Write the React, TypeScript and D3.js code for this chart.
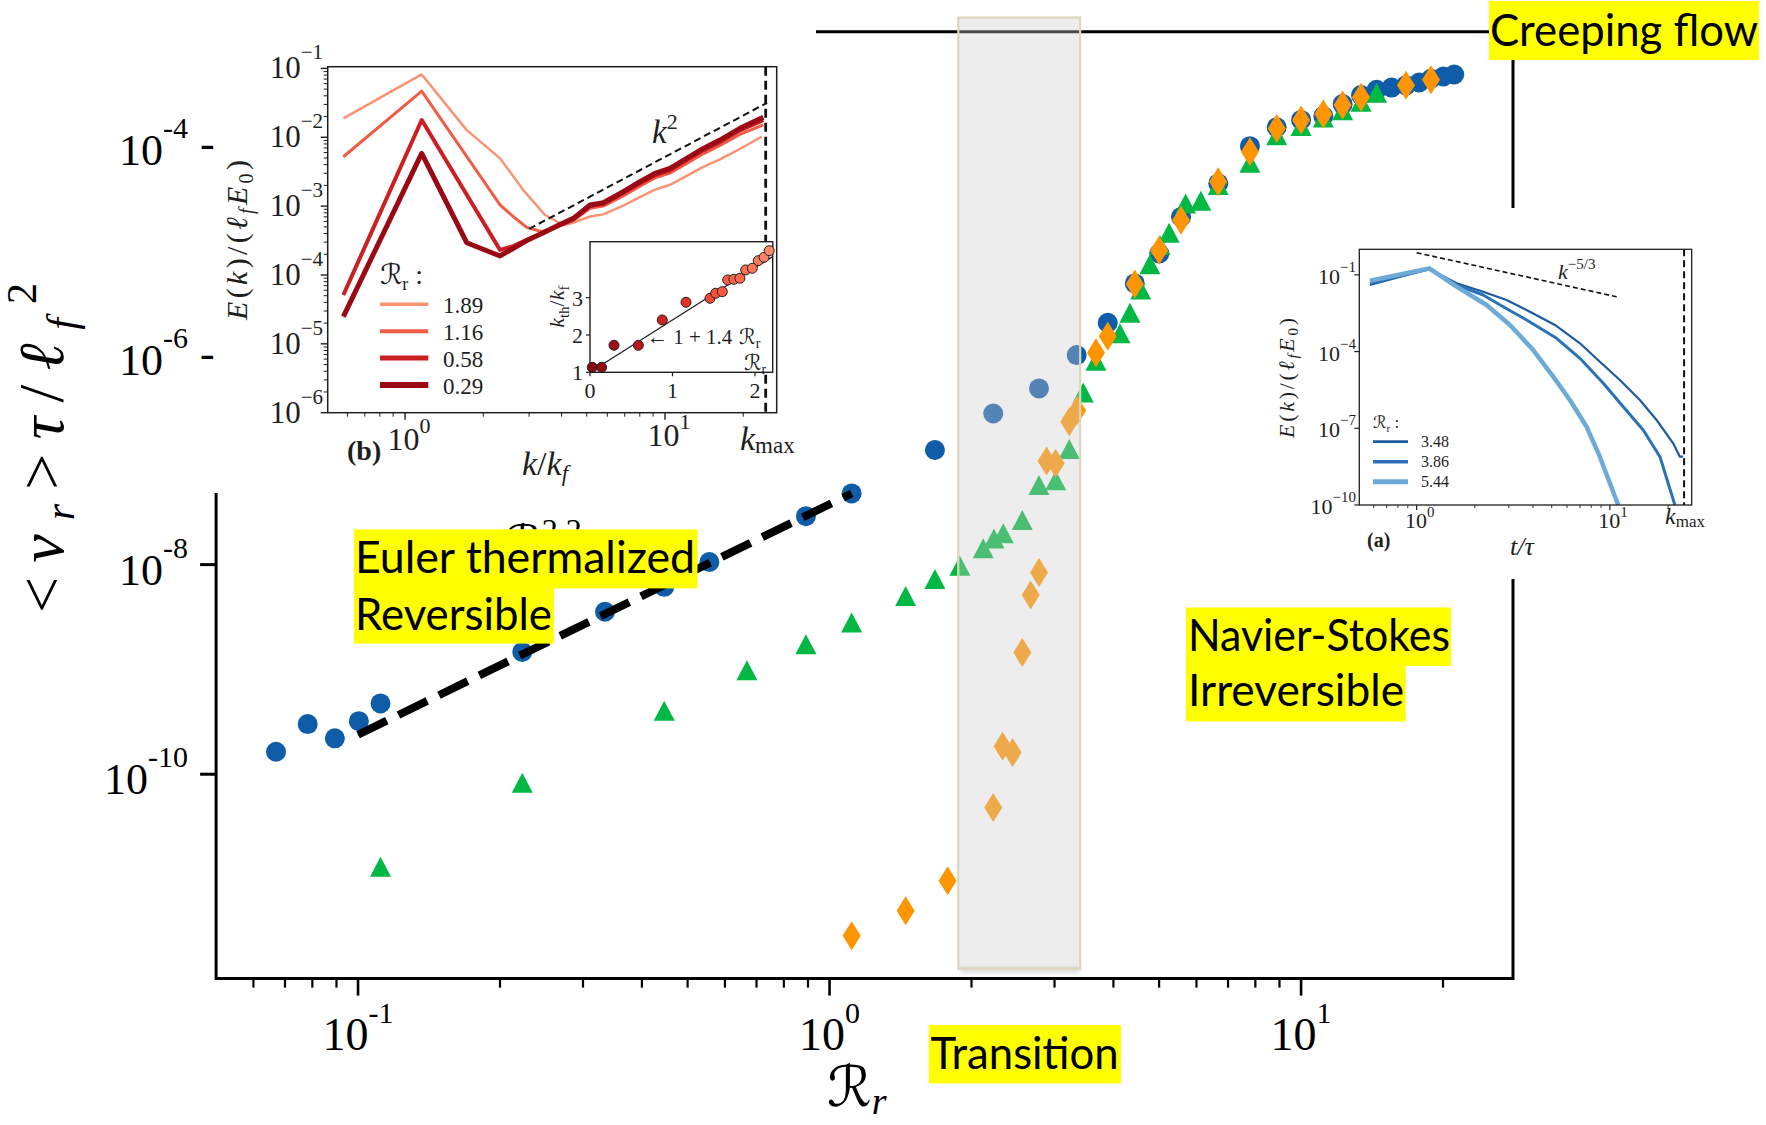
import React from "react";
import * as d3 from "d3";

// ---------- main panel: <ν_r>τ/ℓ_f² against ℛ_r ----------
const circleR = [0.067, 0.0782, 0.0893, 0.1004, 0.1116, 0.223, 0.334, 0.446, 0.556, 0.891, 1.114, 1.673, 2.224, 2.781, 3.343, 3.89, 4.44, 5.004, 5.565, 6.674, 7.79, 8.877, 10.0, 11.15, 12.25, 13.4, 14.46, 15.56, 16.69, 17.8, 18.86, 20.03, 21.13];
const circleNu = [1.64e-10, 3.01e-10, 2.2e-10, 3.21e-10, 4.74e-10, 1.47e-9, 3.55e-9, 6.14e-9, 1.06e-8, 2.9e-8, 4.78e-8, 1.24e-7, 2.77e-7, 4.8e-7, 9.98e-7, 2.03e-6, 4.82e-6, 9.31e-6, 2.08e-5, 4.34e-5, 9.84e-5, 1.49e-4, 1.75e-4, 1.91e-4, 2.48e-4, 3.02e-4, 3.39e-4, 3.56e-4, 3.74e-4, 3.98e-4, 4.33e-4, 4.55e-4, 4.75e-4];

const triangleR = [0.1116, 0.223, 0.446, 0.668, 0.891, 1.114, 1.45, 1.673, 1.89, 2.118, 2.232, 2.336, 2.563, 2.781, 3.017, 3.224, 3.452, 3.673, 4.13, 4.336, 4.57, 4.78, 5.02, 5.25, 5.69, 6.13, 6.67, 7.79, 8.88, 10.0, 11.15, 12.25, 13.4, 14.46];
const triangleNu = [1.31e-11, 8.28e-11, 4.03e-10, 9.84e-10, 1.74e-9, 2.81e-9, 5.01e-9, 7.28e-9, 9.75e-9, 1.43e-8, 1.78e-8, 1.99e-8, 2.66e-8, 5.74e-8, 6.4e-8, 1.27e-7, 4.4e-7, 8.81e-7, 1.61e-6, 2.53e-6, 4.23e-6, 7.36e-6, 1.12e-5, 1.47e-5, 2.79e-5, 2.96e-5, 4.18e-5, 6.82e-5, 1.25e-4, 1.53e-4, 1.85e-4, 2.17e-4, 2.61e-4, 3.18e-4];

const diamondR = [1.114, 1.45, 1.78, 2.224, 2.328, 2.445, 2.563, 2.67, 2.781, 2.886, 3.017, 3.224, 3.35, 3.673, 3.89, 4.44, 5.0, 5.565, 6.67, 7.79, 8.88, 10.0, 11.15, 12.25, 13.4, 16.69, 18.86];
const diamondNu = [2.87e-12, 4.98e-12, 9.62e-12, 4.82e-11, 1.85e-10, 1.61e-10, 1.45e-9, 5.12e-9, 8.41e-9, 9.77e-8, 9.25e-8, 2.31e-7, 2.95e-7, 1.05e-6, 1.51e-6, 4.75e-6, 9.98e-6, 1.93e-5, 4.5e-5, 8.69e-5, 1.45e-4, 1.75e-4, 1.99e-4, 2.43e-4, 2.88e-4, 3.74e-4, 4.23e-4];

// power-law fit ∝ ℛ^2.2 through the reversible branch
const fitR = [0.1, 1.114];
const fitNu = [2.38e-10, 4.78e-8];

// shaded transition window
const bandR = [1.875, 3.4];
const bandNu = [1.4e-12, 1.66e-3];

const xMajor = [0.1, 1, 10];
const xMajorExp = ["-1", "0", "1"];
const xMinor = [0.06, 0.07, 0.08, 0.09, 0.2, 0.3, 0.4, 0.5, 0.6, 0.7, 0.8, 0.9, 2, 3, 4, 5, 6, 7, 8, 9, 20];
const yLabelled = [1e-4, 1e-6, 1e-8, 1e-10];
const yLabelledExp = ["-4", "-6", "-8", "-10"];
const yTicked = [1e-8, 1e-10];

// ---------- panel (b): thermalized spectra ----------
const specBLabels = ["1.89", "1.16", "0.58", "0.29"];
const specBK = [
  [0.579, 1.159, 1.727, 2.32, 2.85, 3.456, 4.063, 4.44, 5.15, 5.79, 6.91, 8.01, 9.15, 10.45, 12.12, 14.04, 16.27, 19.43, 23.55],
  [0.579, 1.159, 2.32, 2.61, 2.94, 3.355, 3.98, 4.44, 5.15, 5.79, 6.91, 8.01, 9.15, 10.45, 12.12, 14.04, 16.27, 19.43, 23.88],
  [0.579, 1.159, 2.32, 2.61, 2.94, 3.4, 3.98, 4.44, 5.15, 5.79, 6.91, 8.01, 9.15, 10.45, 12.12, 14.04, 16.27, 19.43, 23.88],
  [0.579, 1.159, 1.727, 2.32, 2.61, 2.94, 3.4, 3.98, 4.44, 5.15, 5.79, 6.91, 8.01, 9.15, 10.45, 12.12, 14.04, 16.27, 19.43, 23.88],
];
const specBE = [
  [1.88e-2, 8.18e-2, 1.27e-2, 4.94e-3, 1.71e-3, 7.43e-4, 5.32e-4, 5.75e-4, 7.08e-4, 7.59e-4, 1.02e-3, 1.35e-3, 1.74e-3, 2.04e-3, 2.75e-3, 3.72e-3, 4.79e-3, 6.76e-3, 1.02e-2],
  [5.21e-3, 4.69e-2, 1.04e-3, 7.02e-4, 4.92e-4, 4.26e-4, 5.25e-4, 6.17e-4, 9.33e-4, 1.0e-3, 1.41e-3, 1.95e-3, 2.57e-3, 3.02e-3, 4.17e-3, 5.75e-3, 7.59e-3, 1.1e-2, 1.51e-2],
  [5.13e-5, 1.78e-2, 2.31e-4, 2.63e-4, 3.24e-4, 4.07e-4, 5.37e-4, 6.46e-4, 1.0e-3, 1.07e-3, 1.55e-3, 2.14e-3, 2.82e-3, 3.31e-3, 4.68e-3, 6.46e-3, 8.51e-3, 1.26e-2, 1.78e-2],
  [2.48e-5, 5.83e-3, 2.94e-4, 1.89e-4, 2.44e-4, 3.16e-4, 4.11e-4, 5.5e-4, 6.65e-4, 1.04e-3, 1.12e-3, 1.62e-3, 2.26e-3, 2.99e-3, 3.53e-3, 4.94e-3, 6.9e-3, 9.1e-3, 1.35e-2, 1.95e-2],
];
const specBColors = ["#f99373", "#ee5e47", "#cc1f24", "#9a0a14"];
const specBWidths = [2.5, 3, 4, 5];
const kSquaredK = [3.0, 24.7];
const kSquaredE = [4.67e-4, 3.16e-2];
const kMaxB = 24.4;
const specBDecades = [-6, -5, -4, -3, -2, -1];

// panel (b) inner plot: k_th/k_f against ℛ_r
const kthR = [0.028, 0.141, 0.291, 0.586, 0.876, 1.164, 1.455, 1.523, 1.604, 1.669, 1.745, 1.818, 1.887, 1.968, 2.04, 2.11, 2.173];
const kthK = [1.134, 1.134, 1.724, 1.724, 2.402, 2.877, 2.984, 3.118, 3.161, 3.475, 3.493, 3.52, 3.743, 3.788, 3.992, 4.083, 4.26];
const kthFitR = [0, 2.215];

// ---------- panel (a): dissipative spectra ----------
const specALabels = ["3.48", "3.86", "5.44"];
const specAK = [
  [0.573, 1.162, 1.61, 2.21, 2.92, 3.855, 5.195, 7.0, 8.87, 11.26, 14.29, 17.44, 21.26, 23.01, 23.93],
  [0.573, 1.162, 1.61, 2.21, 2.805, 3.707, 5.3, 7.0, 9.24, 11.72, 14.87, 18.15, 21.69],
  [0.573, 1.162, 1.61, 2.3, 3.04, 4.01, 5.09, 6.21, 7.575, 8.87, 10.0, 11.04],
];
const specAE = [
  [4.02e-2, 1.7e-1, 4.68e-2, 2.2e-2, 1.04e-2, 3.63e-3, 1.1e-3, 2.11e-4, 4.02e-5, 7.74e-6, 1.28e-6, 2.11e-7, 2.58e-8, 7.76e-9, 7.76e-9],
  [4.68e-2, 1.7e-1, 4.02e-2, 1.63e-2, 5.69e-3, 1.72e-3, 3.3e-4, 5.46e-5, 5.75e-6, 7.0e-7, 8.57e-8, 7.76e-9, 1.0e-10],
  [5.93e-2, 1.8e-1, 3.45e-2, 6.64e-3, 1.1e-3, 1.15e-4, 1.04e-5, 1.28e-6, 1.15e-7, 7.76e-9, 7.06e-10, 1.0e-10],
];
const specAColors = ["#1c5ba0", "#2a72b8", "#6eaad7"];
const specAWidths = [2.2, 3, 4.5];
const kolmoK = [1.0, 10.84];
const kolmoE = [0.736, 1.39e-2];
const kMaxA = 24.2;
const specADecades = [-1, -4, -7, -10];
const specADecExp = ["−1", "−4", "−7", "−10"];

const minorOf = (lo: number, hi: number) => {
  const out: number[] = [];
  for (let d = lo; d < hi; d++) for (let m = 2; m <= 9; m++) out.push(m * Math.pow(10, d));
  return out;
};

const SERIF = "'Liberation Serif', 'DejaVu Serif', serif";
const SCRIPT = "'DejaVu Serif', 'DejaVu Sans', serif";
const LABEL = "Lato, 'Open Sans', sans-serif";
const INK = "#1e1e1e";

function Pow10(props: { x: number; y: number; exp: string; size: number; sup: number; dy: number; anchor?: string; fill?: string }) {
  const { x, y, exp, size, sup, dy, anchor = "middle", fill = "#000" } = props;
  return (
    <text x={x} y={y} textAnchor={anchor} fontFamily={SERIF} fontSize={size} fill={fill}>
      10
      <tspan fontSize={sup} dy={dy}>{exp}</tspan>
    </text>
  );
}

function tri(cx: number, cy: number) {
  return `M${cx},${cy - 10}L${cx + 10.5},${cy + 10}L${cx - 10.5},${cy + 10}Z`;
}
function dia(cx: number, cy: number) {
  return `M${cx},${cy - 14.5}L${cx + 9},${cy}L${cx},${cy + 14.5}L${cx - 9},${cy}Z`;
}

export default function App() {
  // main axes
  const mx = d3.scaleLog().domain([0.05, 28.15]).range([216.1, 1513]);
  const my = d3.scaleLog().domain([Math.pow(10, -11.95), Math.pow(10, -2.915)]).range([978.6, 31.7]);
  const [mx0, mx1] = mx.range();
  const [my0, my1] = my.range();
  const mline = d3.line<[number, number]>().x((d) => mx(d[0])).y((d) => my(d[1]));

  // panel (b) axes
  const bx = d3.scaleLog().domain([0.504, 26.9]).range([327.7, 776.7]);
  const by = d3.scaleLog().domain([1e-6, Math.pow(10, -0.975)]).range([412.7, 66.7]);
  const bline = d3.line<[number, number]>().x((d) => bx(d[0])).y((d) => by(d[1]));
  const [bx0, bx1] = bx.range();
  const [by0, by1] = by.range();

  // panel (b) inner axes
  const ix = d3.scaleLinear().domain([0, 2.215]).range([590, 772.7]);
  const iy = d3.scaleLinear().domain([1, 4.5]).range([372.3, 241.7]);
  const kthColor = (r: number) => d3.interpolateReds(0.95 - (0.55 * r) / 2.2);

  // panel (a) axes
  const ax = d3.scaleLog().domain([0.505, 26.5]).range([1359.3, 1691.7]);
  const ay = d3.scaleLog().domain([1e-10, 1]).range([505, 249.3]);
  const aline = d3.line<[number, number]>().x((d) => ax(d[0])).y((d) => ay(d[1]));
  const [ax0, ax1] = ax.range();
  const [ay0, ay1] = ay.range();

  const zip = (a: number[], b: number[]) => a.map((v, i) => [v, b[i]] as [number, number]);

  const bandX = mx(bandR[0]);
  const bandW = mx(bandR[1]) - mx(bandR[0]);
  const bandTop = my(bandNu[1]);
  const bandBottom = my(bandNu[0]);

  return (
    <svg width={1766} height={1125} viewBox="0 0 1766 1125" style={{ position: "absolute", left: 0, top: 0, background: "#fff" }}>
      <defs>
        <filter id="bandShadow" x="-20%" y="-200%" width="140%" height="500%">
          <feGaussianBlur stdDeviation="2" />
        </filter>
        <clipPath id="fitLabelClip">
          <rect x={0} y={0} width={1766} height={529.4} />
        </clipPath>
      </defs>
      <rect x={0} y={0} width={1766} height={1125} fill="#fff" />

      {/* ===== main axes frame ===== */}
      <g stroke="#000" strokeWidth={3} fill="none">
        <line x1={mx0} x2={mx1} y1={my0} y2={my0} />
        <line x1={mx0} x2={mx0} y1={my0 + 1.5} y2={my1} />
        <line x1={mx0} x2={mx1 + 1.5} y1={my1} y2={my1} />
        <line x1={mx1} x2={mx1} y1={my0 + 1.5} y2={my1} />
      </g>
      <g stroke="#000">
        {xMajor.map((v) => (
          <line key={"xM" + v} x1={mx(v)} x2={mx(v)} y1={my0} y2={my0 + 17} strokeWidth={2.6} />
        ))}
        {xMinor.map((v) => (
          <line key={"xm" + v} x1={mx(v)} x2={mx(v)} y1={my0} y2={my0 + 9} strokeWidth={2.2} />
        ))}
        {yTicked.map((v) => (
          <line key={"yt" + v} x1={mx0 - 16} x2={mx0} y1={my(v)} y2={my(v)} strokeWidth={3} />
        ))}
      </g>
      {xMajor.map((v, i) => (
        <Pow10 key={"xl" + v} x={mx(v)} y={1050} exp={xMajorExp[i]} size={46} sup={30} dy={-27} />
      ))}

      {/* ===== main markers ===== */}
      <g fill="#0f5ca8">
        {zip(circleR, circleNu).map(([r, v], i) => (
          <circle key={"c" + i} cx={mx(r)} cy={my(v)} r={10} />
        ))}
      </g>
      <g fill="#00b843">
        {zip(triangleR, triangleNu).map(([r, v], i) => (
          <path key={"t" + i} d={tri(mx(r), my(v))} />
        ))}
      </g>
      <g fill="#ff9500">
        {zip(diamondR, diamondNu).map(([r, v], i) => (
          <path key={"d" + i} d={dia(mx(r), my(v))} />
        ))}
      </g>
      <path d={mline(zip(fitR, fitNu)) || ""} fill="none" stroke="#000" strokeWidth={8} strokeDasharray="32 13" />
      <g clipPath="url(#fitLabelClip)">
        <text x={505} y={558} fontFamily={SCRIPT} fontStyle="italic" fontSize={46}>
          ℛ<tspan fontFamily={SERIF} fontStyle="normal" fontSize={32} dy={-17}>2.2</tspan>
        </text>
      </g>

      {/* transition window */}
      <rect x={bandX + 2} y={bandBottom - 1} width={bandW - 2} height={5} fill="#9a9a9a" opacity={0.4} filter="url(#bandShadow)" />
      <rect
        x={bandX}
        y={bandTop}
        width={bandW}
        height={bandBottom - bandTop}
        fill="rgb(206,206,206)"
        fillOpacity={0.36}
        stroke="#ddd6ba"
        strokeWidth={2.2}
      />

      {/* ===== panel (b) ===== */}
      <rect x={0} y={0} width={816} height={493} fill="#fff" />
      <g stroke={INK} strokeWidth={1.4}>
        {[1, 10].map((v) => (
          <line key={"bxM" + v} x1={bx(v)} x2={bx(v)} y1={by0} y2={by0 + 7} />
        ))}
        {[0.6, 0.7, 0.8, 0.9, 2, 3, 4, 5, 6, 7, 8, 9, 20].map((v) => (
          <line key={"bxm" + v} x1={bx(v)} x2={bx(v)} y1={by0} y2={by0 + 4} strokeWidth={1} />
        ))}
        {specBDecades.map((d) => (
          <line key={"byM" + d} x1={bx0 - 7} x2={bx0} y1={by(Math.pow(10, d))} y2={by(Math.pow(10, d))} />
        ))}
        {minorOf(-6, -1).map((v, i) => (
          <line key={"bym" + i} x1={bx0 - 4} x2={bx0} y1={by(v)} y2={by(v)} strokeWidth={1} />
        ))}
      </g>
      {specBDecades.map((d) => (
        <Pow10 key={"byl" + d} x={323} y={by(Math.pow(10, d)) + 10} exp={"−" + Math.abs(d)} size={31} sup={21} dy={-19} anchor="end" fill={INK} />
      ))}
      <Pow10 x={bx(1) + 4} y={450} exp="0" size={32} sup={22} dy={-17} fill={INK} />
      <Pow10 x={bx(10) + 4} y={446} exp="1" size={32} sup={22} dy={-17} fill={INK} />

      {specBK.map((ks, i) => (
        <path key={"sb" + i} d={bline(zip(ks, specBE[i])) || ""} fill="none" stroke={specBColors[i]} strokeWidth={specBWidths[i]} strokeLinejoin="round" />
      ))}
      <path d={bline(zip(kSquaredK, kSquaredE)) || ""} fill="none" stroke="#111" strokeWidth={2} strokeDasharray="7 4" />
      <line x1={bx(kMaxB)} x2={bx(kMaxB)} y1={by1} y2={by0} stroke="#111" strokeWidth={2.8} strokeDasharray="9 5" />
      <rect x={bx0} y={by1} width={bx1 - bx0} height={by0 - by1} fill="none" stroke={INK} strokeWidth={1.5} />

      <text x={652} y={143} fontFamily={SERIF} fontSize={33} fill={INK}>
        <tspan fontStyle="italic">k</tspan>
        <tspan fontSize={22} dy={-14}>2</tspan>
      </text>

      {/* legend (b) */}
      <text x={380} y={284} fontFamily={SCRIPT} fontSize={28} fill={INK}>
        <tspan fontStyle="italic">ℛ</tspan>
        <tspan fontFamily={SERIF} fontSize={18} dy={6}>r</tspan>
        <tspan fontFamily={SERIF} dy={-6}> :</tspan>
      </text>
      {specBLabels.map((lab, i) => (
        <g key={"lb" + lab}>
          <line x1={380} x2={428.3} y1={304.3 + i * 26.9} y2={304.3 + i * 26.9} stroke={specBColors[i]} strokeWidth={specBWidths[i] + 1} />
          <text x={443} y={313 + i * 26.9} fontFamily={SERIF} fontSize={23} fill={INK}>{lab}</text>
        </g>
      ))}

      {/* inner plot k_th/k_f */}
      <rect x={ix(0)} y={iy(4.5)} width={ix(2.215) - ix(0)} height={iy(1) - iy(4.5)} fill="#fff" stroke={INK} strokeWidth={1.4} />
      <g stroke={INK} strokeWidth={1.2}>
        {[0, 1, 2].map((v) => (
          <line key={"ixt" + v} x1={ix(v)} x2={ix(v)} y1={iy(1)} y2={iy(1) + 4} />
        ))}
        {[1, 2, 3].map((v) => (
          <line key={"iyt" + v} x1={ix(0) - 4} x2={ix(0)} y1={iy(v)} y2={iy(v)} />
        ))}
      </g>
      {[0, 1, 2].map((v) => (
        <text key={"ixl" + v} x={ix(v)} y={398} textAnchor="middle" fontFamily={SERIF} fontSize={22} fill={INK}>{v}</text>
      ))}
      {[1, 2, 3].map((v) => (
        <text key={"iyl" + v} x={583} y={iy(v) + 8} textAnchor="end" fontFamily={SERIF} fontSize={22} fill={INK}>{v}</text>
      ))}
      <line x1={ix(kthFitR[0])} y1={iy(1 + 1.4 * kthFitR[0])} x2={ix(kthFitR[1])} y2={iy(1 + 1.4 * kthFitR[1])} stroke="#222" strokeWidth={1.3} />
      {zip(kthR, kthK).map(([r, k], i) => (
        <circle key={"kth" + i} cx={ix(r)} cy={iy(k)} r={5} fill={kthColor(r)} stroke="#222" strokeWidth={1} />
      ))}
      <text x={647} y={344} fontFamily={SERIF} fontSize={21} fill={INK}>
        ← 1 + 1.4
        <tspan fontFamily={SCRIPT} fontStyle="italic"> ℛ</tspan>
        <tspan fontSize={14} dy={4}>r</tspan>
      </text>
      <text x={744} y={370} fontFamily={SCRIPT} fontStyle="italic" fontSize={22} fill={INK}>
        ℛ<tspan fontFamily={SERIF} fontStyle="normal" fontSize={14} dy={4}>r</tspan>
      </text>
      <text transform="translate(564,306.7) rotate(-90)" textAnchor="middle" fontFamily={SERIF} fontSize={22} fill={INK}>
        <tspan fontStyle="italic">k</tspan>
        <tspan fontSize={15} dy={5}>th</tspan>
        <tspan dy={-5}>/</tspan>
        <tspan fontStyle="italic">k</tspan>
        <tspan fontSize={15} dy={5}>f</tspan>
      </text>

      {/* labels (b) */}
      <text transform="translate(247,240) rotate(-90)" textAnchor="middle" fontFamily={SERIF} fontSize={30} fill={INK} textLength={160} lengthAdjust="spacing">
        <tspan fontStyle="italic">E</tspan>(<tspan fontStyle="italic">k</tspan>)/(<tspan fontStyle="italic">ℓ</tspan>
        <tspan fontSize={20} fontStyle="italic" dy={6}>f</tspan>
        <tspan fontStyle="italic" dy={-6}>E</tspan>
        <tspan fontSize={20} dy={6}>0</tspan>
        <tspan dy={-6}>)</tspan>
      </text>
      <text x={347} y={460} fontFamily={SERIF} fontWeight="bold" fontSize={28} fill={INK}>(b)</text>
      <text x={522} y={475} fontFamily={SERIF} fontSize={34} fill={INK}>
        <tspan fontStyle="italic">k</tspan>/<tspan fontStyle="italic">k</tspan>
        <tspan fontStyle="italic" fontSize={23} dy={6}>f</tspan>
      </text>
      <text x={740} y={450} fontFamily={SERIF} fontSize={34} fill={INK}>
        <tspan fontStyle="italic">k</tspan>
        <tspan fontSize={23} dy={3}>max</tspan>
      </text>

      {/* ===== panel (a) ===== */}
      <rect x={1282} y={208} width={484} height={371} fill="#fff" />
      <g stroke={INK} strokeWidth={1.2}>
        {[1, 10].map((v) => (
          <line key={"axM" + v} x1={ax(v)} x2={ax(v)} y1={ay0} y2={ay0 + 5} />
        ))}
        {[0.6, 0.7, 0.8, 0.9, 2, 3, 4, 5, 6, 7, 8, 9, 20].map((v) => (
          <line key={"axm" + v} x1={ax(v)} x2={ax(v)} y1={ay0} y2={ay0 + 3} strokeWidth={0.9} />
        ))}
        {specADecades.map((d) => (
          <line key={"ayM" + d} x1={ax0 - 5} x2={ax0} y1={ay(Math.pow(10, d))} y2={ay(Math.pow(10, d))} />
        ))}
      </g>
      {specADecades.map((d, i) => (
        <Pow10 key={"ayl" + d} x={1356} y={ay(Math.pow(10, d)) + 9} exp={specADecExp[i]} size={22} sup={15} dy={-12} anchor="end" fill={INK} />
      ))}
      <Pow10 x={ax(1) + 3} y={528} exp="0" size={22} sup={15} dy={-11} fill={INK} />
      <Pow10 x={ax(10) + 3} y={528} exp="1" size={22} sup={15} dy={-11} fill={INK} />
      {specAK.map((ks, i) => (
        <path key={"sa" + i} d={aline(zip(ks, specAE[i])) || ""} fill="none" stroke={specAColors[i]} strokeWidth={specAWidths[i]} strokeLinejoin="round" />
      ))}
      <path d={aline(zip(kolmoK, kolmoE)) || ""} fill="none" stroke="#111" strokeWidth={1.6} strokeDasharray="5 3" />
      <line x1={ax(kMaxA)} x2={ax(kMaxA)} y1={ay1} y2={ay0} stroke="#111" strokeWidth={2} strokeDasharray="7 4" />
      <rect x={ax0} y={ay1} width={ax1 - ax0} height={ay0 - ay1} fill="none" stroke={INK} strokeWidth={1.3} />
      <text x={1558} y={279} fontFamily={SERIF} fontSize={22} fill={INK}>
        <tspan fontStyle="italic">k</tspan>
        <tspan fontSize={15} dy={-10}>−5/3</tspan>
      </text>
      <text x={1373} y={428} fontFamily={SCRIPT} fontSize={17} fill={INK}>
        <tspan fontStyle="italic">ℛ</tspan>
        <tspan fontFamily={SERIF} fontSize={11} dy={4}>r</tspan>
        <tspan fontFamily={SERIF} dy={-4}> :</tspan>
      </text>
      {specALabels.map((lab, i) => (
        <g key={"la" + lab}>
          <line x1={1373} x2={1408} y1={441.7 + i * 20} y2={441.7 + i * 20} stroke={specAColors[i]} strokeWidth={specAWidths[i] + 0.5} />
          <text x={1421} y={447 + i * 20} fontFamily={SERIF} fontSize={16} fill={INK}>{lab}</text>
        </g>
      ))}
      <text transform="translate(1294,378) rotate(-90)" textAnchor="middle" fontFamily={SERIF} fontSize={22} fill={INK} textLength={120} lengthAdjust="spacing">
        <tspan fontStyle="italic">E</tspan>(<tspan fontStyle="italic">k</tspan>)/(<tspan fontStyle="italic">ℓ</tspan>
        <tspan fontSize={15} fontStyle="italic" dy={4}>f</tspan>
        <tspan fontStyle="italic" dy={-4}>E</tspan>
        <tspan fontSize={15} dy={4}>0</tspan>
        <tspan dy={-4}>)</tspan>
      </text>
      <text x={1367} y={547} fontFamily={SERIF} fontWeight="bold" fontSize={20} fill={INK}>(a)</text>
      <text x={1510} y={555} fontFamily={SERIF} fontStyle="italic" fontSize={26} fill={INK}>t/τ</text>
      <text x={1665} y={524} fontFamily={SERIF} fontSize={24} fill={INK}>
        <tspan fontStyle="italic">k</tspan>
        <tspan fontSize={17} dy={3}>max</tspan>
      </text>

      {/* ===== main axis labels drawn over the panels ===== */}
      {yLabelled.map((v, i) => (
        <Pow10 key={"yl" + v} x={188} y={my(v) + 20} exp={yLabelledExp[i]} size={44} sup={30} dy={-27} anchor="end" />
      ))}
      {yLabelled
        .filter((v) => yTicked.indexOf(v) < 0)
        .map((v) => (
          <text key={"yd" + v} x={200} y={my(v) + 13} fontFamily={SERIF} fontSize={44}>-</text>
        ))}
      <text transform="translate(63,448) rotate(-90)" textAnchor="middle" fontFamily={SERIF} fontSize={64} textLength={330} lengthAdjust="spacing">
        {"<"}
        <tspan fontStyle="italic">ν</tspan>
        <tspan fontStyle="italic" fontSize={42} dy={11}>r</tspan>
        <tspan dy={-11}>{">"}</tspan>
        <tspan fontStyle="italic">τ</tspan>/<tspan fontStyle="italic">ℓ</tspan>
        <tspan fontStyle="italic" fontSize={42} dy={13}>f</tspan>
        <tspan fontSize={42} dy={-40}>2</tspan>
      </text>
      <text x={827} y={1106} fontFamily={SCRIPT} fontStyle="italic" fontSize={56}>
        ℛ<tspan fontFamily={SERIF} fontSize={38} dy={8}>r</tspan>
      </text>

      {/* ===== regime annotations ===== */}
      <g fontFamily={LABEL} fontSize={45} fill="#000">
        <rect x={1489} y={1} width={270} height={59} fill="#ffff00" />
        <text x={1490} y={45.5} textLength={268} lengthAdjust="spacingAndGlyphs">Creeping flow</text>

        <rect x={354} y={529.4} width={343.5} height={59} fill="#ffff00" />
        <rect x={354} y={588} width={200} height={55.6} fill="#ffff00" />
        <text x={355} y={573} textLength={340} lengthAdjust="spacingAndGlyphs">Euler thermalized</text>
        <text x={355} y={630} textLength={197} lengthAdjust="spacingAndGlyphs">Reversible</text>

        <rect x={1186} y={607.5} width={265} height={58.5} fill="#ffff00" />
        <rect x={1186} y={666} width={219.6} height={55.5} fill="#ffff00" />
        <text x={1188} y={650.7} textLength={262} lengthAdjust="spacingAndGlyphs">Navier-Stokes</text>
        <text x={1188} y={706} textLength={216} lengthAdjust="spacingAndGlyphs">Irreversible</text>

        <rect x={928.8} y={1025} width={192.2} height={58.5} fill="#ffff00" />
        <text x={930.6} y={1069} textLength={188} lengthAdjust="spacingAndGlyphs">Transition</text>
      </g>
    </svg>
  );
}
